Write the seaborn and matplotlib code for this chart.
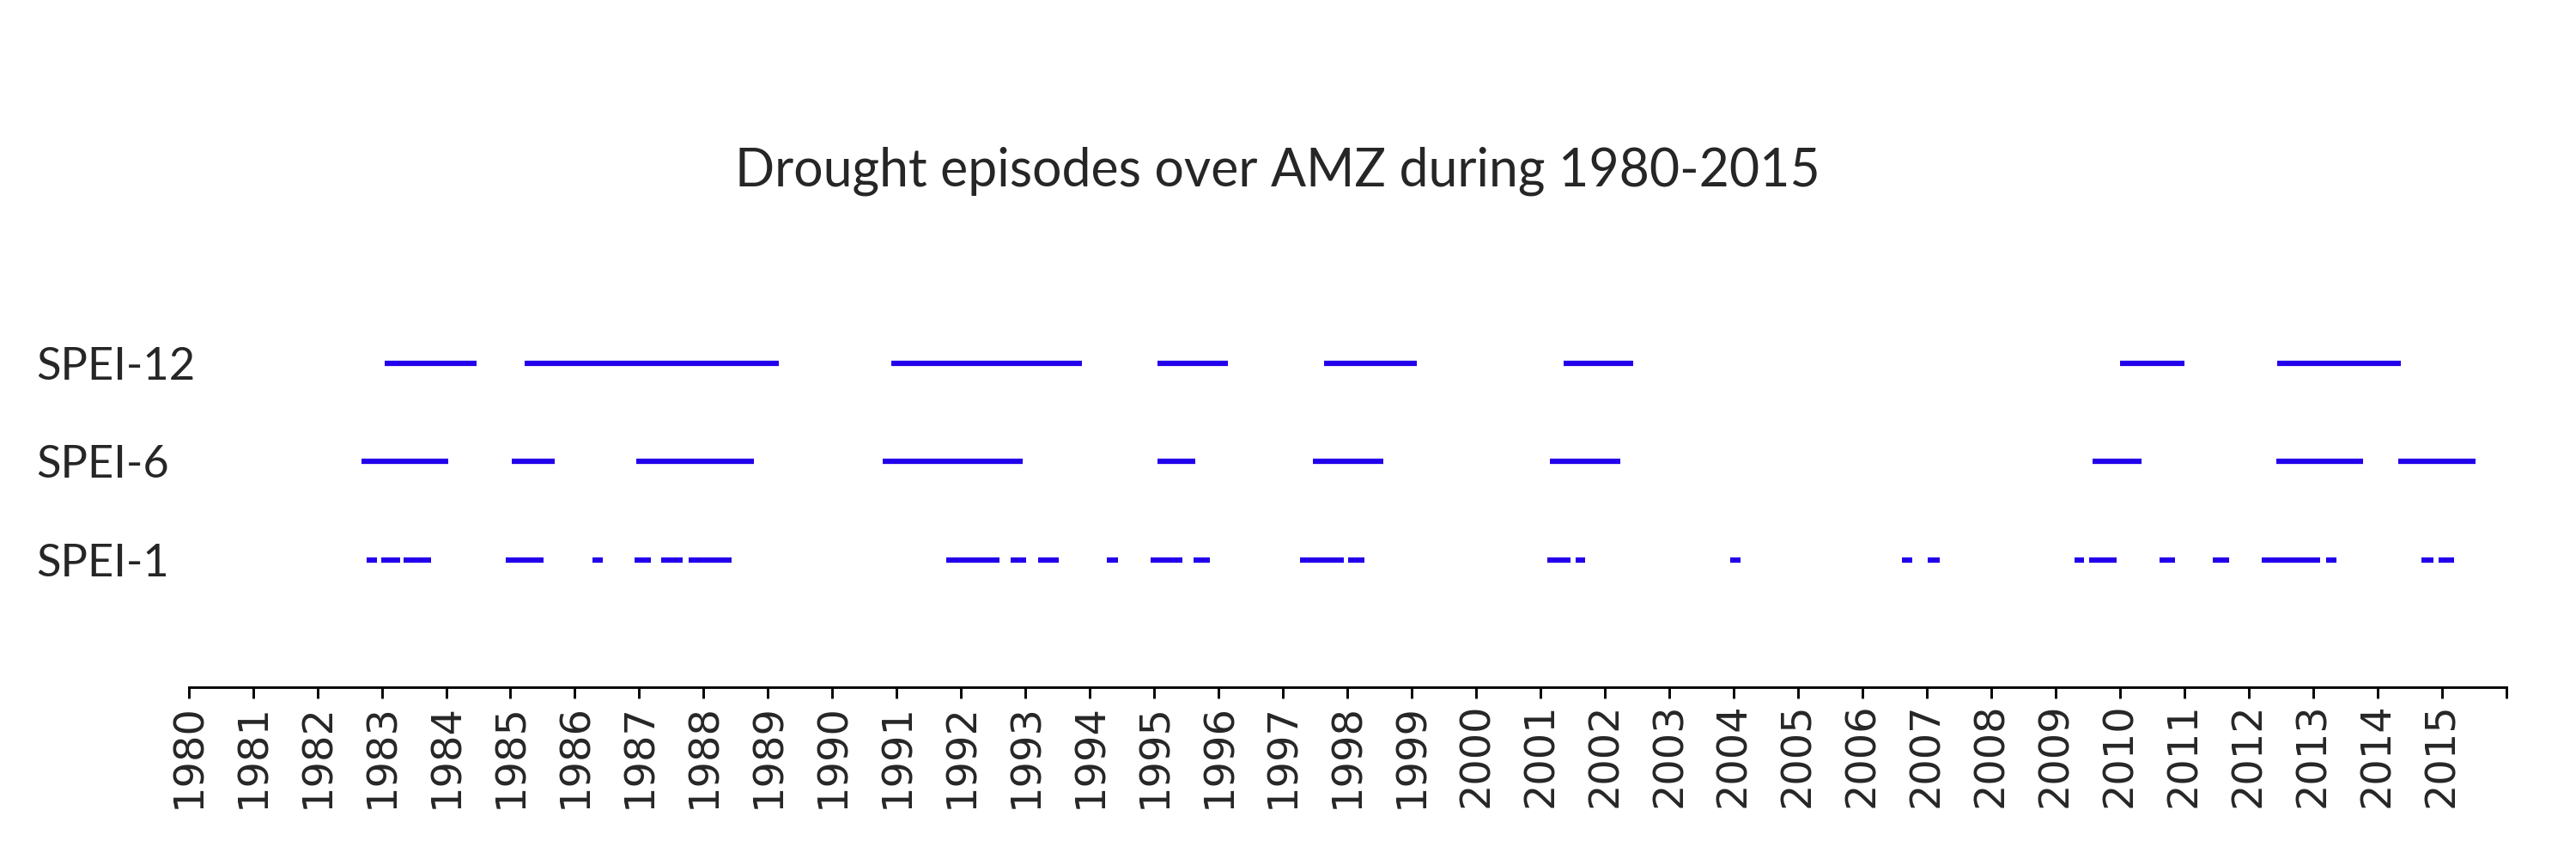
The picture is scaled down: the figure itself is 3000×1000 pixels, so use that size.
"""
    Drought episodes over AMZ (SPEI-1 / SPEI-6 / SPEI-12) as horizontal bars per index.
"""

import seaborn as sns
import pandas as pd
import matplotlib.pyplot as plt

# episode start / end, decimal years
spei12_start = [1983.04, 1985.22, 1990.92, 1995.05, 1997.64, 2001.36, 2010.00, 2012.44]
spei12_end = [1984.47, 1989.17, 1993.87, 1996.14, 1999.08, 2002.44, 2011.00, 2014.37]

spei6_start = [1982.68, 1985.02, 1986.95, 1990.78, 1995.05, 1997.47, 2001.15, 2009.57, 2012.43, 2014.33]
spei6_end = [1984.03, 1985.69, 1988.78, 1992.96, 1995.64, 1998.56, 2002.24, 2010.33, 2013.77, 2015.52]

spei1_start = [1982.76, 1982.99, 1983.34, 1984.93, 1986.27, 1986.93, 1987.34, 1987.77,
               1991.77, 1992.77, 1993.19, 1994.27, 1994.94, 1995.61, 1997.27, 1998.01,
               2001.11, 2001.54, 2003.95, 2006.62, 2007.02, 2009.29, 2009.52, 2010.62,
               2011.44, 2012.20, 2013.20, 2014.69, 2014.95]
spei1_end = [1982.93, 1983.28, 1983.76, 1985.52, 1986.43, 1987.18, 1987.67, 1988.43,
             1992.60, 1993.01, 1993.52, 1994.44, 1995.44, 1995.86, 1997.94, 1998.27,
             2001.46, 2001.69, 2004.11, 2006.77, 2007.20, 2009.44, 2009.95, 2010.86,
             2011.69, 2013.11, 2013.36, 2014.87, 2015.19]

indices = ["SPEI-1", "SPEI-6", "SPEI-12"]
years = list(range(1980, 2016))
title = "Drought episodes over AMZ during 1980-2015"

episodes = {
    "SPEI-1": (spei1_start, spei1_end),
    "SPEI-6": (spei6_start, spei6_end),
    "SPEI-12": (spei12_start, spei12_end),
}

# long table: two points per episode, one line per episode
rows = []
seg = 0
for i, name in enumerate(indices):
    for s, e in zip(*episodes[name]):
        rows.append({"year": s, "row": i + 1, "seg": seg})
        rows.append({"year": e, "row": i + 1, "seg": seg})
        seg += 1
df = pd.DataFrame(rows)

sns.set_style("white")
plt.rcParams["font.family"] = ["DejaVu Sans"]

fig = plt.figure(figsize=(10, 10 / 3), dpi=300)
ax = fig.add_axes([0.0732, 0.2, 0.8997, 0.468])

sns.lineplot(data=df, x="year", y="row", units="seg", estimator=None, sort=False,
             color="#2300EB", linewidth=1.5, solid_capstyle="butt", ax=ax)

ax.set_xlim(1980, 2016)
ax.set_ylim(-0.3, 3.8)
ax.set_xticks(years + [2016], [str(y) for y in years] + [""], rotation=90, fontsize=11.5)
ax.set_yticks(range(1, len(indices) + 1), indices, family=["Lato", "DejaVu Sans"], fontsize=12.6)
for lab in ax.get_yticklabels():
    lab.set_ha("left")
ax.tick_params(axis="y", length=0, pad=42.5)
ax.tick_params(axis="x", length=3, width=0.7, pad=1.5, bottom=True, color="black")
ax.set_xlabel("")
ax.set_ylabel("")

for side in ["top", "right", "left"]:
    ax.spines[side].set_visible(False)
ax.spines["bottom"].set_linewidth(0.7)
ax.spines["bottom"].set_color("black")

# title is centred on the figure, not on the axes
fig.suptitle(title, family=["Lato", "DejaVu Sans"], fontsize=14.6, x=0.496, y=0.784, va="baseline")

plt.savefig("out.png", dpi=300)
plt.close()
